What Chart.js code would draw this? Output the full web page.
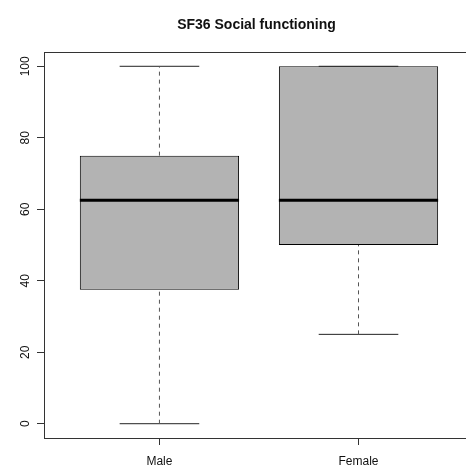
<!DOCTYPE html>
<html>
<head>
<meta charset="utf-8">
<script src="https://cdn.jsdelivr.net/npm/chart.js@4"></script>
<style>
  html, body { margin: 0; padding: 0; background: #fff; }
  canvas { display: block; }
</style>
</head>
<body>
<canvas id="chart" width="466" height="469"></canvas>
<script>
const title = 'SF36 Social functioning';
const categories = ['Male', 'Female'];
const mins = [0, 25];
const q1s = [37.5, 50];
const medians = [62.5, 62.5];
const q3s = [75, 100];
const maxs = [100, 100];
const yTicks = [0, 20, 40, 60, 80, 100];

const FONT = '"Liberation Sans", Arial, Helvetica, sans-serif';

// one line dataset per segment (whiskers, caps, medians)
function seg(x0, y0, x1, y1, extra) {
  return Object.assign({
    type: 'line',
    data: [{ x: x0, y: y0 }, { x: x1, y: y1 }],
    borderColor: '#000',
    borderWidth: 1,
    pointRadius: 0,
    fill: false,
    tension: 0,
    order: 1
  }, extra);
}

const lineSets = [];
categories.forEach((c, i) => {
  const x = i + 1;
  const dash = { borderDash: [4, 4], borderColor: '#555' };
  lineSets.push(seg(x, q3s[i], x, maxs[i], dash));
  lineSets.push(seg(x, mins[i], x, q1s[i], dash));
  lineSets.push(seg(x - 0.2, maxs[i], x + 0.2, maxs[i], { borderColor: '#222' }));
  lineSets.push(seg(x - 0.2, mins[i], x + 0.2, mins[i], { borderColor: '#222' }));
  lineSets.push(seg(x - 0.4, medians[i], x + 0.4, medians[i], { borderWidth: 3 }));
});

const rStyle = {
  id: 'rStyle',
  afterDraw(chart) {
    const { ctx, chartArea: a, scales: { x, y } } = chart;
    ctx.save();
    // top frame line
    ctx.strokeStyle = '#333';
    ctx.lineWidth = 1;
    ctx.beginPath();
    ctx.moveTo(a.left, a.top + 0.5);
    ctx.lineTo(a.right, a.top + 0.5);
    ctx.stroke();

    ctx.fillStyle = '#111';
    ctx.font = '12px ' + FONT;
    ctx.textAlign = 'center';
    ctx.textBaseline = 'alphabetic';
    // y tick labels, rotated like R
    yTicks.forEach(v => {
      ctx.save();
      ctx.translate(28.5, y.getPixelForValue(v));
      ctx.rotate(-Math.PI / 2);
      ctx.fillText(String(v), 0, 0);
      ctx.restore();
    });
    // x category labels
    categories.forEach((c, i) => {
      ctx.fillText(c, x.getPixelForValue(i + 1), 464.5);
    });
    // title centred over the plot
    ctx.font = 'bold 14px ' + FONT;
    ctx.fillText(title, x.getPixelForValue((1 + categories.length) / 2) - 2.5, 29);
    ctx.restore();
  }
};

new Chart(document.getElementById('chart'), {
  type: 'bar',
  data: {
    datasets: [{
      type: 'bar',
      data: categories.map((c, i) => ({ x: i + 1, y: [q1s[i], q3s[i]] })),
      backgroundColor: '#B3B3B3',
      borderColor: '#000',
      borderWidth: 1,
      borderSkipped: false,
      categoryPercentage: 1,
      barPercentage: 0.8,
      order: 2
    }].concat(lineSets)
  },
  options: {
    responsive: false,
    animation: false,
    events: [],
    layout: { padding: { top: 52, left: 0, right: 0, bottom: 0 } },
    plugins: {
      legend: { display: false },
      tooltip: { enabled: false },
      title: { display: false }
    },
    scales: {
      x: {
        type: 'linear',
        min: 0.42,
        max: 2.54,
        offset: false,
        afterBuildTicks: s => { s.ticks = categories.map((c, i) => ({ value: i + 1 })); },
        afterFit: s => { s.height = 31; },
        ticks: { display: false },
        grid: { drawOnChartArea: false, drawTicks: true, tickLength: 7, color: '#333', offset: false },
        border: { display: true, color: '#333', width: 1 }
      },
      y: {
        type: 'linear',
        min: -4,
        max: 104,
        afterBuildTicks: s => { s.ticks = yTicks.map(v => ({ value: v })); },
        afterFit: s => { s.width = 44; },
        ticks: { display: false },
        grid: { drawOnChartArea: false, drawTicks: true, tickLength: 7, color: '#333' },
        border: { display: true, color: '#333', width: 1 }
      }
    }
  },
  plugins: [rStyle]
});
</script>
</body>
</html>
